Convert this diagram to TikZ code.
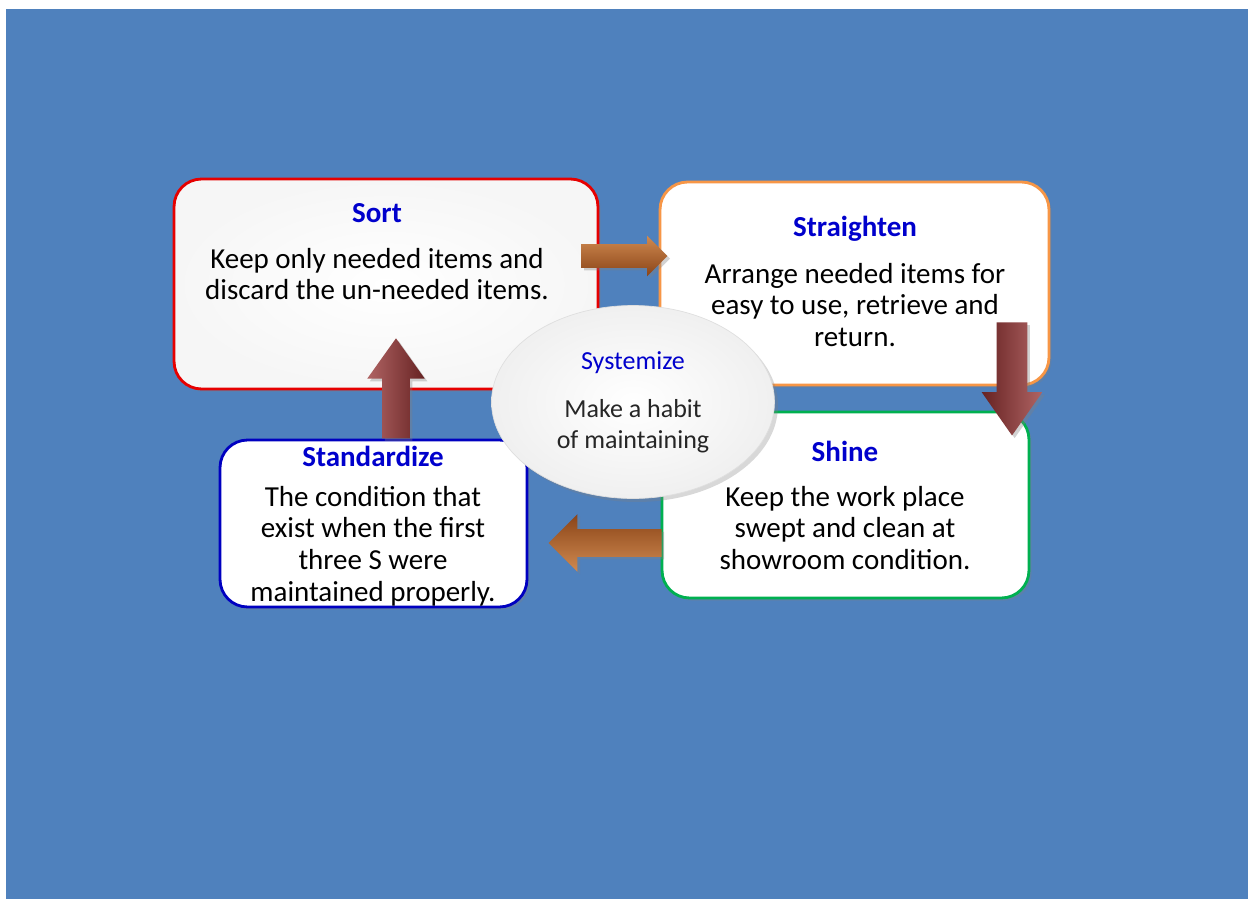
\documentclass[tikz,border=0pt]{standalone}
\usepackage{fontspec}
\setmainfont{Carlito}
\usetikzlibrary{shapes,arrows,positioning,shadows}

\definecolor{slideblue}{HTML}{4F81BD}
\definecolor{titleblue}{HTML}{0000CC}
\definecolor{sortred}{HTML}{E60000}
\definecolor{straightorange}{HTML}{F79646}
\definecolor{shinegreen}{HTML}{00B050}
\definecolor{standblue}{HTML}{0000C0}
\definecolor{copperlight}{HTML}{D08A50}
\definecolor{copperdark}{HTML}{8A4418}
\definecolor{maroonlight}{HTML}{B06464}
\definecolor{maroondark}{HTML}{662222}

\begin{document}
\begin{tikzpicture}[
    x=0.02cm, y=-0.02cm,
    every node/.style = {align=center},
    box/.style = {draw=#1, line width=1.6pt, fill=white, rounded corners=0.55cm,
                  inner sep=0pt,
                  drop shadow={opacity=0.3, shadow xshift=1.5pt, shadow yshift=-1.5pt}},
    title/.style = {font=\fontsize{16.5}{18}\selectfont\bfseries, text=titleblue},
    body/.style = {font=\fontsize{16.5}{18.1}\selectfont},
    blockarrow/.style = {single arrow, draw=none, inner sep=#1,
                  drop shadow={opacity=0.35, shadow xshift=1.5pt, shadow yshift=-1.5pt}},
  ]

    % background
    \useasboundingbox (0,0) rectangle (1248,899);
    \fill[slideblue] (6,9) rectangle (1248,899);

    % the four S boxes
    \node[box=sortred, minimum width=8.48cm, minimum height=4.2cm,
          inner color=white, outer color=gray!7] (A) at (386,284) {};
    \node[box=straightorange, minimum width=7.78cm, minimum height=4.06cm] (B) at (854.5,283.5) {};
    \node[box=shinegreen, minimum width=7.34cm, minimum height=3.72cm] (C) at (845.5,505) {};
    \node[box=standblue, minimum width=6.14cm, minimum height=3.34cm] (D) at (373.5,523.5) {};

    \node[title] (A1) at (377,213) {Sort};
    \node[body]  (A2) at (377,274) {Keep only needed items and\\discard the un-needed items.};
    \node[title] (B1) at (855,229) {Straighten};
    \node[body]  (B2) at (855,305) {Arrange needed items for\\easy to use, retrieve and\\return.};
    \node[title] (C1) at (845,451) {Shine};
    \node[body]  (C2) at (845,528) {Keep the work place\\swept and clean at\\showroom condition.};
    \node[title] (D1) at (373,456) {Standardize};
    \node[body]  (D2) at (373,546) {The condition that\\exist when the first\\three S were\\maintained properly.};

    % arrows between the boxes
    \node[blockarrow=0.23cm, minimum height=1.72cm,
          single arrow head extend=0.17cm,
          top color=copperlight, bottom color=copperdark] (AB) at (618.5,256) {};
    \node[blockarrow=0.3cm, shape border rotate=270, minimum height=2.26cm,
          single arrow head extend=0.3cm, single arrow tip angle=70,
          left color=maroondark, right color=maroonlight] (BC) at (1012,368) {};
    \node[blockarrow=0.27cm, shape border rotate=180, minimum height=2.26cm,
          single arrow head extend=0.3cm,
          top color=copperdark, bottom color=copperlight] (CD) at (612,543) {};
    \node[blockarrow=0.27cm, shape border rotate=90, minimum height=2cm,
          single arrow head extend=0.3cm, single arrow tip angle=71,
          left color=maroonlight, right color=maroondark] (DA) at (396,398) {};

    % centre ellipse
    \node[ellipse, minimum width=5.66cm, minimum height=3.86cm, inner sep=0pt,
          inner color=white, outer color=gray!12, draw=gray!25, line width=0.4pt,
          drop shadow={opacity=0.3, shadow xshift=2pt, shadow yshift=-2pt}] (E) at (633,402) {};
    \node[font=\fontsize{14.8}{17.6}\selectfont, text=titleblue] (E1) at (633,363) {Systemize};
    \node[font=\fontsize{14.8}{17.6}\selectfont, text=black!85] (E2) at (633,426) {Make a habit\\of maintaining};
\end{tikzpicture}
\end{document}
